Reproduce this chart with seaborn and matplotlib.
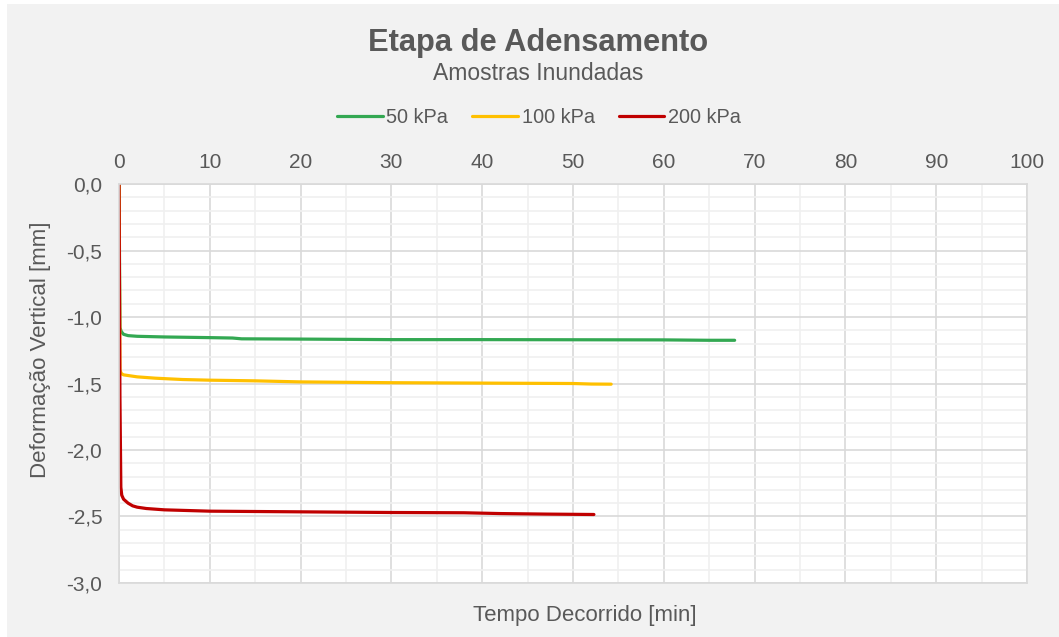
import numpy as np
import pandas as pd
import matplotlib.pyplot as plt
import seaborn as sns
from matplotlib.patches import Rectangle
from matplotlib.ticker import MultipleLocator, FuncFormatter

# ── data ──────────────────────────────────────────────────────────────
t_50 = [0, 0.1, 0.25, 0.5, 1, 2, 5, 10, 12.5, 13.5, 20, 30, 40, 50, 60, 65, 67.8]
d_50 = [0, -1.08, -1.11, -1.13, -1.14, -1.145, -1.15, -1.155, -1.158, -1.164,
        -1.166, -1.17, -1.17, -1.171, -1.172, -1.175, -1.175]

t_100 = [0, 0.1, 0.25, 0.5, 1, 2, 4, 7, 10, 15, 20, 30, 40, 50, 52, 54.2]
d_100 = [0, -1.40, -1.425, -1.435, -1.44, -1.45, -1.46, -1.47, -1.475, -1.48,
         -1.488, -1.494, -1.497, -1.50, -1.504, -1.505]

t_200 = [0, 0.1, 0.2, 0.3, 0.5, 1, 1.5, 2, 3, 5, 10, 20, 30, 38, 42, 47, 52.3]
d_200 = [0, -1.6, -2.28, -2.34, -2.37, -2.40, -2.42, -2.43, -2.44, -2.45,
         -2.46, -2.465, -2.47, -2.472, -2.478, -2.482, -2.485]

series = ["50 kPa", "100 kPa", "200 kPa"]
colors = ["#33A852", "#FFC000", "#C00000"]
# ──────────────────────────────────────────────────────────────────────

df = pd.concat([
    pd.DataFrame({"t": t_50, "d": d_50, "s": series[0]}),
    pd.DataFrame({"t": t_100, "d": d_100, "s": series[1]}),
    pd.DataFrame({"t": t_200, "d": d_200, "s": series[2]}),
])

sns.set_style("white")
plt.rcParams["font.family"] = ["Liberation Sans", "DejaVu Sans"]
txt = "#595959"

fig = plt.figure(figsize=(10.59, 6.37), dpi=100, facecolor="white")
fig.patches.append(Rectangle((7 / 1059, 0), 1, 1 - 4 / 637,
                             transform=fig.transFigure, facecolor="#F2F2F2",
                             edgecolor="none", zorder=-10))
ax = fig.add_axes([0.1124, 0.0848, 0.8574, 0.6263])
ax.set_facecolor("white")

sns.lineplot(data=df, x="t", y="d", hue="s", palette=dict(zip(series, colors)),
             sort=False, estimator=None, linewidth=2.3, ax=ax, legend=True)

ax.set_xlim(0, 100)
ax.set_ylim(-3.0, 0)
ax.xaxis.set_major_locator(MultipleLocator(10))
ax.xaxis.set_minor_locator(MultipleLocator(5))
ax.yaxis.set_major_locator(MultipleLocator(0.5))
ax.yaxis.set_minor_locator(MultipleLocator(0.1))
ax.yaxis.set_major_formatter(FuncFormatter(lambda v, p: f"{v:.1f}".replace(".", ",")))
ax.xaxis.tick_top()
ax.tick_params(which="both", length=0, labelsize=15, labelcolor=txt)
ax.tick_params(axis="x", pad=9)
ax.tick_params(axis="y", pad=12)
ax.grid(which="major", color="#D9D9D9", linewidth=1.2)
ax.grid(which="minor", color="#F0F0F0", linewidth=1.2)
ax.set_axisbelow(True)
for sp in ax.spines.values():
    sp.set_color("#D9D9D9")
    sp.set_linewidth(1.2)

ax.set_xlabel("Tempo Decorrido [min]", fontsize=16, color=txt)
ax.xaxis.set_label_position("bottom")
ax.xaxis.set_label_coords(0.513, -0.055)
ax.set_ylabel("Deformação Vertical [mm]", fontsize=16, color=txt)
ax.yaxis.set_label_coords(-0.075, 0.584)

handles, labels = ax.get_legend_handles_labels()
ax.legend_.remove()
fig.legend(handles, labels, loc="center", bbox_to_anchor=(0.509, 0.815), ncol=3,
           frameon=False, fontsize=14.3, labelcolor=txt, handlelength=2.3,
           handletextpad=0.2, columnspacing=1.2)

fig.text(0.508, 0.932, "Etapa de Adensamento", ha="center", va="center",
         fontsize=22.2, fontweight="bold", color=txt)
fig.text(0.508, 0.885, "Amostras Inundadas", ha="center", va="center",
         fontsize=16.5, color=txt)

plt.savefig("out.png", dpi=100, facecolor=fig.get_facecolor())
